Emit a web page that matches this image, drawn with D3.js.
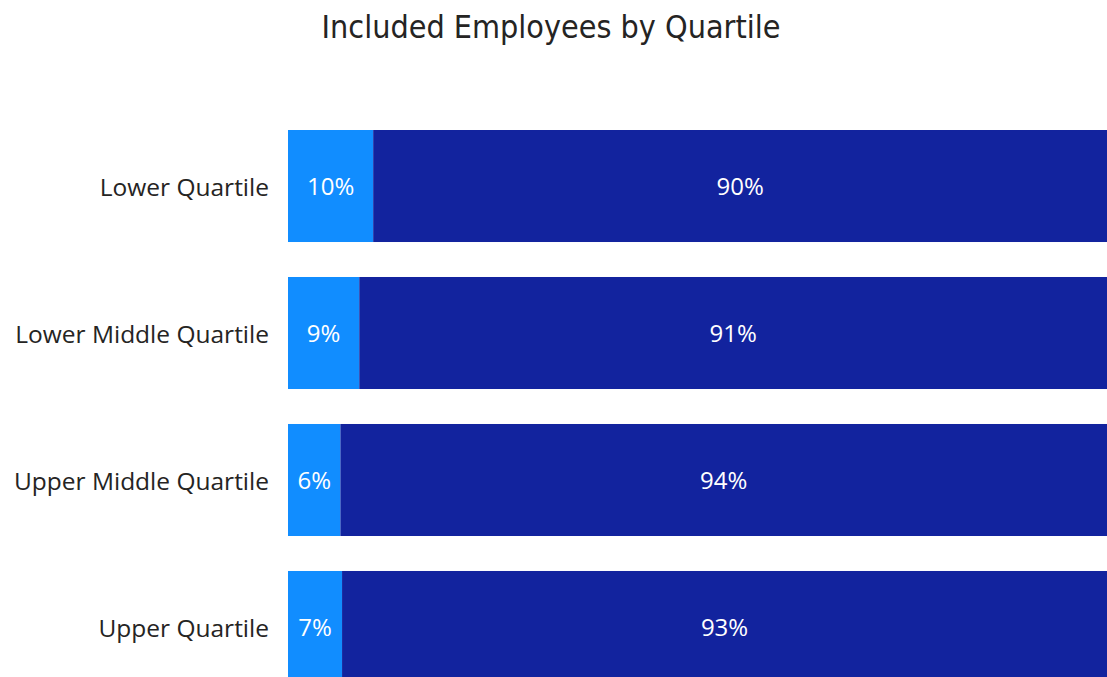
<!DOCTYPE html>
<html>
<head>
<meta charset="utf-8">
<script src="https://cdn.jsdelivr.net/npm/d3@7"></script>
<style>
  html, body { margin: 0; padding: 0; background: #fff; overflow: hidden; }
  svg { display: block; }
</style>
</head>
<body>
<svg width="1107" height="677"></svg>
<script>
// quartile categories and the two shares
var quartiles = ['Lower Quartile', 'Lower Middle Quartile', 'Upper Middle Quartile', 'Upper Quartile'];
var excluded = [0.104, 0.087, 0.064, 0.066];
var included = [0.896, 0.913, 0.936, 0.934];
var seriesColors = ['#118DFF', '#12239E'];

var svg = d3.select('svg'),
    width = +svg.attr('width'),
    height = +svg.attr('height');

var rows = quartiles.map(function (q, i) {
  return { name: q, a: excluded[i], b: included[i] };
});

var stack = d3.stack().keys(['a', 'b']);
var series = stack(rows);

var x = d3.scaleLinear().domain([0, 1]).range([288, 1107]);
var y = d3.scaleBand()
    .domain(quartiles)
    .range([130, 683])
    .paddingInner(0.238)
    .paddingOuter(0);

// title
svg.append('text')
    .attr('x', 551)
    .attr('y', 38)
    .attr('text-anchor', 'middle')
    .attr('font-family', 'DejaVu Sans, sans-serif')
    .attr('font-stretch', 'condensed')
    .attr('font-size', 32)
    .attr('fill', '#252423')
    .text('Included Employees by Quartile');

// bars
var layer = svg.append('g')
    .selectAll('g')
    .data(series)
    .enter().append('g')
    .attr('fill', function (d, i) { return seriesColors[i]; });

layer.selectAll('rect')
    .data(function (d) { return d; })
    .enter().append('rect')
    .attr('x', function (d) { return x(d[0]); })
    .attr('y', function (d) { return y(d.data.name); })
    .attr('width', function (d) { return x(d[1]) - x(d[0]); })
    .attr('height', y.bandwidth());

// data labels
var fmt = d3.format('.0%');
layer.selectAll('text')
    .data(function (d) { return d; })
    .enter().append('text')
    .attr('x', function (d) { return (x(d[0]) + x(d[1])) / 2; })
    .attr('y', function (d) { return y(d.data.name) + y.bandwidth() / 2 + 1; })
    .attr('dy', '0.35em')
    .attr('text-anchor', 'middle')
    .attr('font-family', 'Open Sans, sans-serif')
    .attr('font-size', 24)
    .attr('fill', '#fff')
    .text(function (d) { return fmt(d[1] - d[0]); });

// category axis
var yAxis = svg.append('g')
    .attr('transform', 'translate(288,0)')
    .call(d3.axisLeft(y).tickSize(0).tickPadding(19));
yAxis.select('.domain').remove();
yAxis.selectAll('text')
    .attr('dy', '0.4em')
    .attr('font-family', 'Open Sans, sans-serif')
    .attr('font-size', 24.5)
    .attr('fill', '#252423');
</script>
</body>
</html>
